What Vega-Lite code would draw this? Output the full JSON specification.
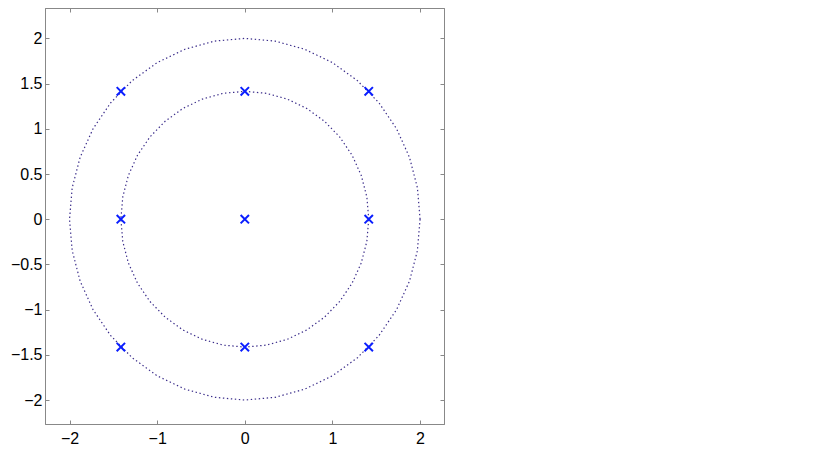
{
  "$schema": "https://vega.github.io/schema/vega-lite/v6.json",
  "width": 399,
  "height": 416,
  "autosize": {"type": "none"},
  "padding": {"left": 45, "top": 8, "right": 386, "bottom": 33},
  "background": "white",
  "config": {
    "view": {"stroke": "#888888", "strokeWidth": 1},
    "axis": {
      "grid": false,
      "domainColor": "#888888",
      "tickColor": "#888888",
      "tickSize": -4,
      "labelFont": "Liberation Sans",
      "labelFontSize": 16,
      "labelColor": "#000000",
      "title": null
    }
  },
  "datasets": {
    "circles": [
      {"c": "outer", "k": 0, "x": 2, "y": 0},
      {"c": "outer", "k": 1, "x": 1.96962, "y": 0.3473},
      {"c": "outer", "k": 2, "x": 1.87939, "y": 0.68404},
      {"c": "outer", "k": 3, "x": 1.73205, "y": 1},
      {"c": "outer", "k": 4, "x": 1.53209, "y": 1.28558},
      {"c": "outer", "k": 5, "x": 1.28558, "y": 1.53209},
      {"c": "outer", "k": 6, "x": 1, "y": 1.73205},
      {"c": "outer", "k": 7, "x": 0.68404, "y": 1.87939},
      {"c": "outer", "k": 8, "x": 0.3473, "y": 1.96962},
      {"c": "outer", "k": 9, "x": 0, "y": 2},
      {"c": "outer", "k": 10, "x": -0.3473, "y": 1.96962},
      {"c": "outer", "k": 11, "x": -0.68404, "y": 1.87939},
      {"c": "outer", "k": 12, "x": -1, "y": 1.73205},
      {"c": "outer", "k": 13, "x": -1.28558, "y": 1.53209},
      {"c": "outer", "k": 14, "x": -1.53209, "y": 1.28558},
      {"c": "outer", "k": 15, "x": -1.73205, "y": 1},
      {"c": "outer", "k": 16, "x": -1.87939, "y": 0.68404},
      {"c": "outer", "k": 17, "x": -1.96962, "y": 0.3473},
      {"c": "outer", "k": 18, "x": -2, "y": 0},
      {"c": "outer", "k": 19, "x": -1.96962, "y": -0.3473},
      {"c": "outer", "k": 20, "x": -1.87939, "y": -0.68404},
      {"c": "outer", "k": 21, "x": -1.73205, "y": -1},
      {"c": "outer", "k": 22, "x": -1.53209, "y": -1.28558},
      {"c": "outer", "k": 23, "x": -1.28558, "y": -1.53209},
      {"c": "outer", "k": 24, "x": -1, "y": -1.73205},
      {"c": "outer", "k": 25, "x": -0.68404, "y": -1.87939},
      {"c": "outer", "k": 26, "x": -0.3473, "y": -1.96962},
      {"c": "outer", "k": 27, "x": 0, "y": -2},
      {"c": "outer", "k": 28, "x": 0.3473, "y": -1.96962},
      {"c": "outer", "k": 29, "x": 0.68404, "y": -1.87939},
      {"c": "outer", "k": 30, "x": 1, "y": -1.73205},
      {"c": "outer", "k": 31, "x": 1.28558, "y": -1.53209},
      {"c": "outer", "k": 32, "x": 1.53209, "y": -1.28558},
      {"c": "outer", "k": 33, "x": 1.73205, "y": -1},
      {"c": "outer", "k": 34, "x": 1.87939, "y": -0.68404},
      {"c": "outer", "k": 35, "x": 1.96962, "y": -0.3473},
      {"c": "outer", "k": 36, "x": 2, "y": 0},
      {"c": "inner", "k": 0, "x": 1.41421, "y": 0},
      {"c": "inner", "k": 1, "x": 1.39273, "y": 0.24558},
      {"c": "inner", "k": 2, "x": 1.32893, "y": 0.48369},
      {"c": "inner", "k": 3, "x": 1.22474, "y": 0.70711},
      {"c": "inner", "k": 4, "x": 1.08335, "y": 0.90904},
      {"c": "inner", "k": 5, "x": 0.90904, "y": 1.08335},
      {"c": "inner", "k": 6, "x": 0.70711, "y": 1.22474},
      {"c": "inner", "k": 7, "x": 0.48369, "y": 1.32893},
      {"c": "inner", "k": 8, "x": 0.24558, "y": 1.39273},
      {"c": "inner", "k": 9, "x": 0, "y": 1.41421},
      {"c": "inner", "k": 10, "x": -0.24558, "y": 1.39273},
      {"c": "inner", "k": 11, "x": -0.48369, "y": 1.32893},
      {"c": "inner", "k": 12, "x": -0.70711, "y": 1.22474},
      {"c": "inner", "k": 13, "x": -0.90904, "y": 1.08335},
      {"c": "inner", "k": 14, "x": -1.08335, "y": 0.90904},
      {"c": "inner", "k": 15, "x": -1.22474, "y": 0.70711},
      {"c": "inner", "k": 16, "x": -1.32893, "y": 0.48369},
      {"c": "inner", "k": 17, "x": -1.39273, "y": 0.24558},
      {"c": "inner", "k": 18, "x": -1.41421, "y": 0},
      {"c": "inner", "k": 19, "x": -1.39273, "y": -0.24558},
      {"c": "inner", "k": 20, "x": -1.32893, "y": -0.48369},
      {"c": "inner", "k": 21, "x": -1.22474, "y": -0.70711},
      {"c": "inner", "k": 22, "x": -1.08335, "y": -0.90904},
      {"c": "inner", "k": 23, "x": -0.90904, "y": -1.08335},
      {"c": "inner", "k": 24, "x": -0.70711, "y": -1.22474},
      {"c": "inner", "k": 25, "x": -0.48369, "y": -1.32893},
      {"c": "inner", "k": 26, "x": -0.24558, "y": -1.39273},
      {"c": "inner", "k": 27, "x": 0, "y": -1.41421},
      {"c": "inner", "k": 28, "x": 0.24558, "y": -1.39273},
      {"c": "inner", "k": 29, "x": 0.48369, "y": -1.32893},
      {"c": "inner", "k": 30, "x": 0.70711, "y": -1.22474},
      {"c": "inner", "k": 31, "x": 0.90904, "y": -1.08335},
      {"c": "inner", "k": 32, "x": 1.08335, "y": -0.90904},
      {"c": "inner", "k": 33, "x": 1.22474, "y": -0.70711},
      {"c": "inner", "k": 34, "x": 1.32893, "y": -0.48369},
      {"c": "inner", "k": 35, "x": 1.39273, "y": -0.24558},
      {"c": "inner", "k": 36, "x": 1.41421, "y": 0}
    ],
    "points": [
      {"x": -1.41421, "y": 1.41421},
      {"x": 0, "y": 1.41421},
      {"x": 1.41421, "y": 1.41421},
      {"x": -1.41421, "y": 0},
      {"x": 0, "y": 0},
      {"x": 1.41421, "y": 0},
      {"x": -1.41421, "y": -1.41421},
      {"x": 0, "y": -1.41421},
      {"x": 1.41421, "y": -1.41421}
    ]
  },
  "layer": [
    {
      "data": {"name": "circles"},
      "mark": {"type": "line", "color": "#3a2c8a", "strokeWidth": 1.2, "strokeDash": [1.4, 2.6], "clip": true},
      "encoding": {
        "x": {"field": "x", "type": "quantitative",
              "scale": {"domain": [-2.28, 2.273], "nice": false, "zero": false},
              "axis": {"orient": "bottom", "values": [-2, -1, 0, 1, 2], "format": "~g", "labelPadding": 10}},
        "y": {"field": "y", "type": "quantitative",
              "scale": {"domain": [-2.265, 2.336], "nice": false, "zero": false},
              "axis": {"orient": "left", "values": [-2, -1.5, -1, -0.5, 0, 0.5, 1, 1.5, 2], "format": "~g", "labelPadding": 7}},
        "detail": {"field": "c"},
        "order": {"field": "k", "type": "quantitative"}
      }
    },
    {
      "data": {"name": "points"},
      "mark": {"type": "point", "shape": "M-1,-1L1,1M-1,1L1,-1", "filled": false, "stroke": "#0a1eff", "strokeWidth": 2, "size": 70, "opacity": 1},
      "encoding": {
        "x": {"field": "x", "type": "quantitative",
              "axis": {"orient": "top", "values": [-2, -1, 0, 1, 2], "labels": false}},
        "y": {"field": "y", "type": "quantitative",
              "axis": {"orient": "right", "values": [-2, -1.5, -1, -0.5, 0, 0.5, 1, 1.5, 2], "labels": false}}
      }
    }
  ],
  "resolve": {"axis": {"x": "independent", "y": "independent"}}
}
